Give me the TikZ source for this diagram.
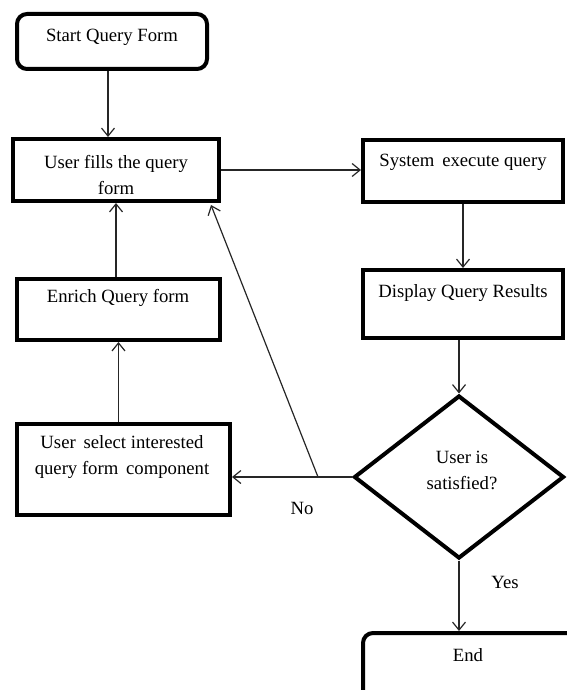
\documentclass[tikz,border=0pt]{standalone}
\usepackage{fontspec}
\setmainfont{Liberation Serif}
\usetikzlibrary{arrows.meta,shapes.geometric}
\begin{document}
\begin{tikzpicture}[x=1pt,y=-1pt,
  box/.style={draw=black,line width=4pt,inner sep=0pt,fill=white},
  dia/.style={draw=black,line width=4pt,diamond,inner sep=0pt,fill=white},
  lbl/.style={font=\fontsize{18.7}{26}\selectfont,align=center,inner sep=0pt,text=black},
  arr/.style={draw=black!85,line width=1.2pt,-{Straight Barb[length=8pt,width=13pt,line width=1.2pt]}},
  ln/.style={draw=black!85,line width=1.2pt}]
\useasboundingbox (0,0) rectangle (566,690);
% boxes
\node[box,rounded corners=10pt,minimum width=190pt,minimum height=55pt] (start) at (112,41.5) {};
\node[box,minimum width=206pt,minimum height=62pt] (fills) at (116,170) {};
\node[box,minimum width=200pt,minimum height=62pt] (sys) at (463,171) {};
\node[box,minimum width=200pt,minimum height=68pt] (disp) at (463,304) {};
\node[dia,minimum width=210pt,minimum height=163pt] (dm) at (459,477) {};
\node[box,minimum width=203pt,minimum height=61pt] (enrich) at (118.5,309.5) {};
\node[box,minimum width=213pt,minimum height=91pt] (sel) at (123.5,469.5) {};
\node[box,rounded corners=10pt,minimum width=237pt,minimum height=87pt] (end) at (481.5,676.5) {};
% texts
\node[lbl] (tstart) at (112,37) {Start Query Form};
\node[lbl] (tfills) at (116,175) {User fills the query\\form};
\node[lbl] (tsys) at (463,162) {System\, execute query};
\node[lbl] (tdisp) at (463,293) {Display Query Results};
\node[lbl] (tdm) at (462,470.5) {User is\\satisfied?};
\node[lbl] (tenrich) at (118,298) {Enrich Query form};
\node[lbl] (tsel) at (122,457.5) {User\, select interested\\query form\, component};
\node[lbl] (tend) at (468,655) {End};
\node[lbl] (tno) at (302,508) {No};
\node[lbl] (tyes) at (505,582) {Yes};
% connectors
\draw[arr] ([xshift=-4pt]start.south) -- ([xshift=-8pt]fills.north);
\draw[arr] (fills.east) -- (fills.east -| sys.west);
\draw[arr] (sys.south) -- (disp.north);
\draw[arr] (disp.south -| dm.north) -- (dm.north);
\draw[arr] (dm.south) -- (dm.south |- end.north);
\draw[arr] (dm.west) -- (dm.west -| sel.east);
\coordinate (nj) at ([xshift=-34pt]dm.west);
\draw[arr] (nj) -- ([xshift=-10pt,yshift=-2pt]fills.south east);
\draw[arr] (sel.north -| enrich.south) -- (enrich.south);
\draw[arr] (enrich.north -| fills.south) -- (fills.south);
\end{tikzpicture}
\end{document}
